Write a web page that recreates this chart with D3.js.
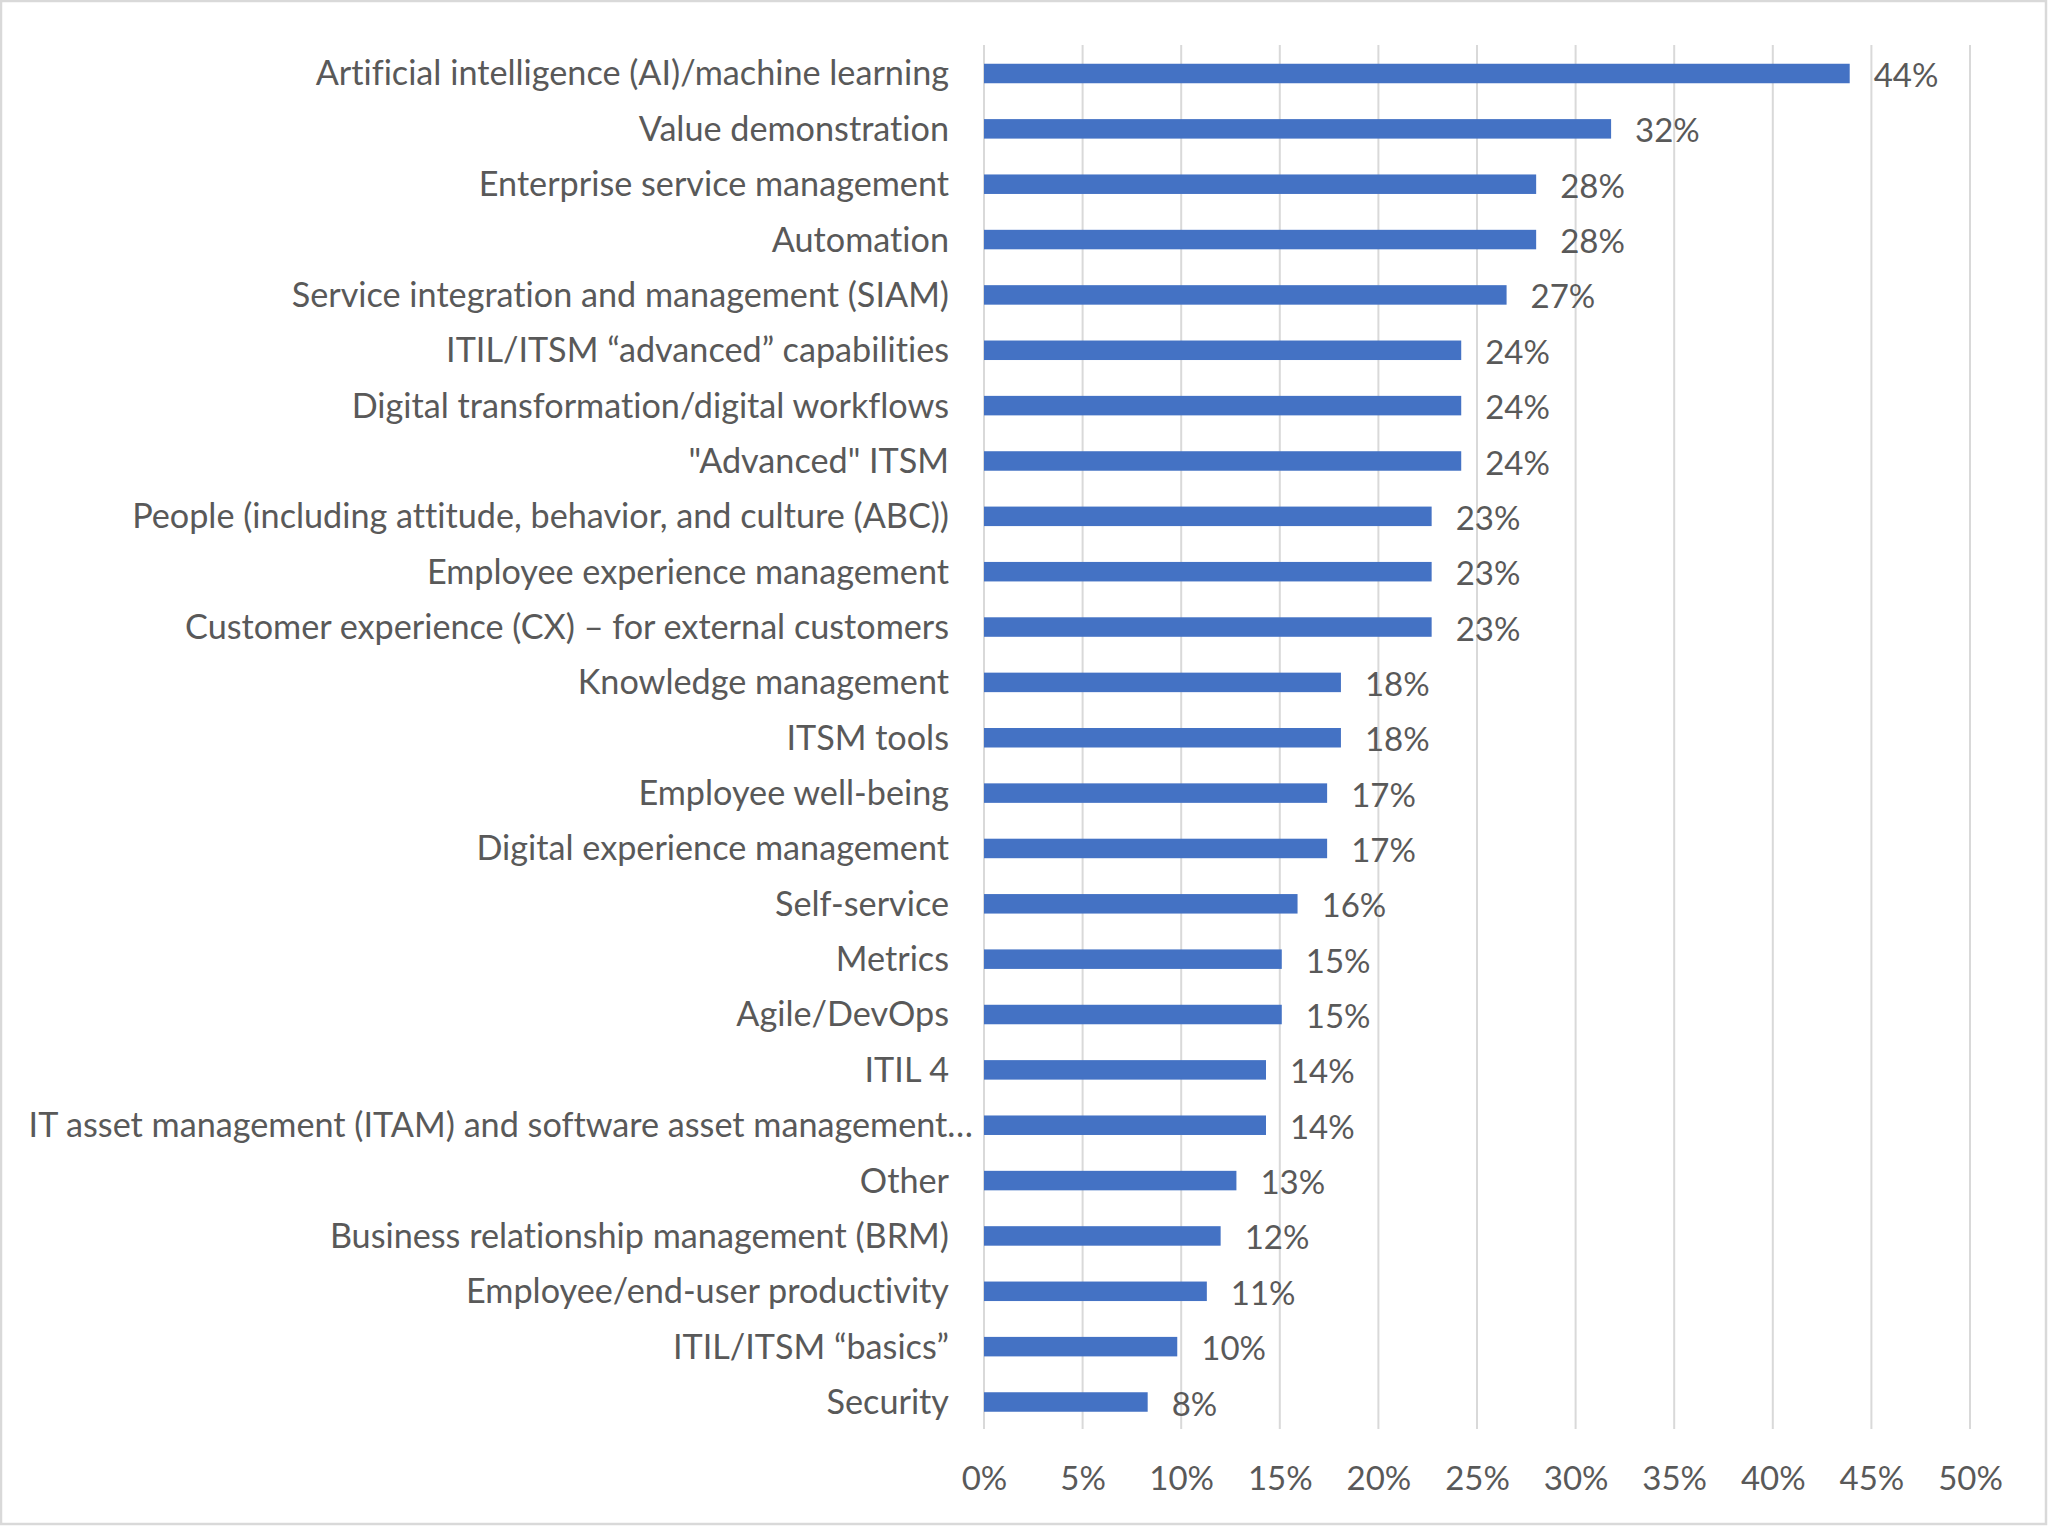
<!DOCTYPE html>
<html><head><meta charset="utf-8">
<script src="https://cdn.jsdelivr.net/npm/d3@7"></script>
<style>html,body{margin:0;padding:0;background:#fff;} text{font-variant-ligatures:none;font-feature-settings:"liga" 0;}</style>
</head><body>
<svg id="chart" width="2048" height="1526"></svg>
<script>
const categories = [
  "Artificial intelligence (AI)/machine learning",
  "Value demonstration",
  "Enterprise service management",
  "Automation",
  "Service integration and management (SIAM)",
  "ITIL/ITSM \u201cadvanced\u201d capabilities",
  "Digital transformation/digital workflows",
  "\"Advanced\" ITSM",
  "People (including attitude, behavior, and culture (ABC))",
  "Employee experience management",
  "Customer experience (CX) \u2013 for external customers",
  "Knowledge management",
  "ITSM tools",
  "Employee well-being",
  "Digital experience management",
  "Self-service",
  "Metrics",
  "Agile/DevOps",
  "ITIL 4",
  "IT asset management (ITAM) and software asset management\u2026",
  "Other",
  "Business relationship management (BRM)",
  "Employee/end-user productivity",
  "ITIL/ITSM \u201cbasics\u201d",
  "Security"
];
const values = [43.9, 31.8, 28.0, 28.0, 26.5, 24.2, 24.2, 24.2, 22.7, 22.7, 22.7, 18.1, 18.1, 17.4, 17.4, 15.9, 15.1, 15.1, 14.3, 14.3, 12.8, 12.0, 11.3, 9.8, 8.3];
const tickValues = [0, 5, 10, 15, 20, 25, 30, 35, 40, 45, 50];

const svg = d3.select("#chart");
const W = 2048, H = 1526;
const font = "Lato, 'Open Sans', sans-serif";
const fsCat = 34.2;
const fsNum = 33;
const textColor = "#595959";

svg.append("rect").attr("x", 1).attr("y", 1).attr("width", W - 3).attr("height", H - 3)
  .attr("fill", "#fff").attr("stroke", "#d9d9d9").attr("stroke-width", 2.5);

const x = d3.scaleLinear().domain([0, 50]).range([984, 1970]);
const y = d3.scalePoint().domain(categories).range([73.5, 1402]);
const barH = 19.5;
const gridTop = 45, gridBottom = 1429;

// gridlines
svg.append("g").selectAll("line").data(tickValues).join("line")
  .attr("x1", d => x(d)).attr("x2", d => x(d))
  .attr("y1", gridTop).attr("y2", gridBottom)
  .attr("stroke", "#d9d9d9").attr("stroke-width", 2);

// x axis labels
const xAxis = d3.axisBottom(x).tickValues(tickValues).tickFormat(d => d + "%").tickSize(0).tickPadding(0);
const gx = svg.append("g").attr("transform", `translate(0,${1478})`).call(xAxis);
gx.select(".domain").remove();
gx.selectAll("text").attr("font-family", font).attr("font-size", fsNum).attr("fill", textColor)
  .attr("dy", "0.35em").attr("y", 0);

// bars
svg.append("g").selectAll("rect").data(values).join("rect")
  .attr("x", x(0))
  .attr("y", (d, i) => y(categories[i]) - barH / 2)
  .attr("width", d => x(d) - x(0))
  .attr("height", barH)
  .attr("fill", "#4472c4");

// category labels
svg.append("g").selectAll("text").data(categories).join("text")
  .attr("x", d => d.endsWith("\u2026") ? 973 : 949)
  .attr("y", d => y(d))
  .attr("dy", "0.35em")
  .attr("text-anchor", "end")
  .attr("font-family", font).attr("font-size", fsCat).attr("fill", textColor)
  .text(d => d);

// value labels
svg.append("g").selectAll("text").data(values).join("text")
  .attr("x", d => x(d) + 24)
  .attr("y", (d, i) => y(categories[i]) + 2)
  .attr("dy", "0.35em")
  .attr("font-family", font).attr("font-size", fsNum).attr("fill", textColor)
  .text(d => Math.round(d) + "%");
</script>
</body></html>
